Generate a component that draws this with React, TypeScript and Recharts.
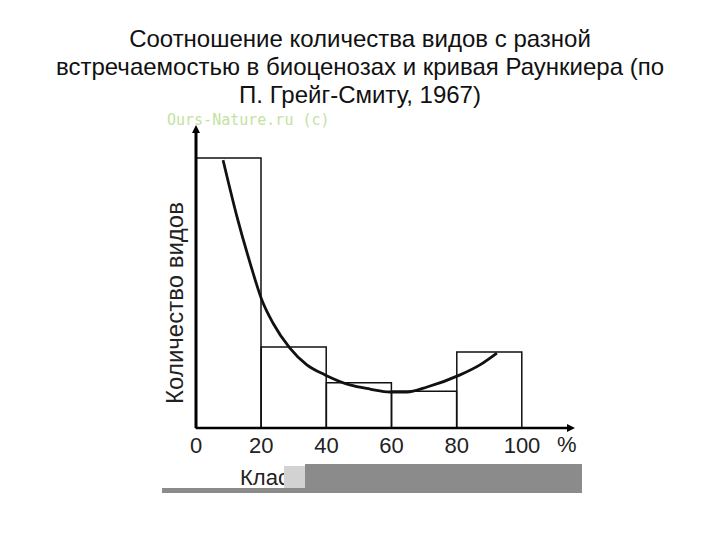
import { ComposedChart, Bar, Line, XAxis, YAxis } from "recharts";

// classes of occurrence (%), species count per class
const classLabels = ["0–20", "20–40", "40–60", "60–80", "80–100"];
const speciesCounts = [91.5, 27.5, 15.3, 12.5, 25.8];
const xTicks = [0, 20, 40, 60, 80, 100];

// Raunkiaer curve
const curveX = [8.3, 12.6, 16.6, 20.2, 23.6, 28.8, 34.0, 39.6, 47.2, 53.4, 59.5, 64.7, 70.9, 81.0, 87.1, 92.3];
const curveY = [90.8, 71.5, 55.9, 43.4, 35.6, 27.1, 21.4, 18.0, 14.6, 13.2, 12.2, 12.2, 13.9, 18.0, 21.4, 25.4];

const bars = classLabels.map((cls, i) => ({ cls, count: speciesCounts[i] }));
const curve = curveX.map((x, i) => ({ x, y: curveY[i] }));

const FONT = "'Liberation Sans', Arial, sans-serif";
const PAD = { left: 0, right: 45 };

export default function App() {
  return (
    <div
      style={{
        position: "absolute",
        left: 0,
        top: 0,
        width: 720,
        height: 540,
        background: "#fff",
        fontFamily: FONT,
        overflow: "hidden",
      }}
    >
      <ComposedChart
        width={720}
        height={540}
        data={bars}
        margin={{ top: 133, right: 153, bottom: 72, left: 195 }}
        barCategoryGap={0}
        barGap={0}
      >
        <defs>
          <marker
            id="arrow"
            viewBox="0 0 10 10"
            refX="0"
            refY="5"
            markerWidth="14"
            markerHeight="8"
            markerUnits="userSpaceOnUse"
            orient="auto-start-reverse"
          >
            <path d="M0,0 L10,5 L0,10 z" fill="#000" />
          </marker>
        </defs>
        <XAxis xAxisId="bin" dataKey="cls" type="category" hide height={0} padding={PAD} />
        <XAxis
          xAxisId="num"
          dataKey="x"
          type="number"
          domain={[0, 100]}
          ticks={xTicks}
          interval={0}
          padding={PAD}
          height={40}
          tickLine={false}
          tickMargin={3}
          axisLine={{ stroke: "#000", strokeWidth: 2.5, markerEnd: "url(#arrow)" }}
          tick={{ fontSize: 22, fill: "#222", fontFamily: FONT }}
        />
        <YAxis
          type="number"
          domain={[0, 100]}
          width={1}
          tick={false}
          tickLine={false}
          axisLine={{ stroke: "#000", strokeWidth: 3, markerStart: "url(#arrow)" }}
        />
        <Bar
          xAxisId="bin"
          dataKey="count"
          fill="none"
          stroke="#111"
          strokeWidth={1.5}
          isAnimationActive={false}
        />
        <Line
          xAxisId="num"
          data={curve}
          dataKey="y"
          type="monotone"
          stroke="#111"
          strokeWidth={2.8}
          dot={false}
          isAnimationActive={false}
        />
      </ComposedChart>

      <div
        style={{
          position: "absolute",
          left: 0,
          top: 25,
          width: 720,
          textAlign: "center",
          fontSize: 24,
          lineHeight: "28px",
          color: "#111",
        }}
      >
        Соотношение количества видов с разной
        <br />
        встречаемостью в биоценозах и кривая Раункиера (по
        <br />
        П. Грейг-Смиту, 1967)
      </div>

      <div
        style={{
          position: "absolute",
          left: 167,
          top: 111,
          fontFamily: "'DejaVu Sans Mono', monospace",
          fontSize: 15,
          color: "#c4e2a2",
          whiteSpace: "nowrap",
        }}
      >
        Ours-Nature.ru (c)
      </div>

      <div
        style={{
          position: "absolute",
          left: 175,
          top: 303,
          transform: "translate(-50%, -50%) rotate(-90deg)",
          fontSize: 24,
          color: "#222",
          whiteSpace: "nowrap",
        }}
      >
        Количество видов
      </div>

      <div
        style={{
          position: "absolute",
          left: 557,
          top: 432,
          fontSize: 22,
          color: "#222",
        }}
      >
        %
      </div>

      <div
        style={{
          position: "absolute",
          left: 240,
          top: 465,
          fontSize: 22,
          color: "#222",
          whiteSpace: "nowrap",
        }}
      >
        Класс
      </div>
      <div style={{ position: "absolute", left: 284, top: 466, width: 21, height: 22, background: "#d2d2d2" }} />
      <div style={{ position: "absolute", left: 305, top: 464, width: 277, height: 29, background: "#8b8b8b" }} />
      <div style={{ position: "absolute", left: 162, top: 488, width: 143, height: 5, background: "#8b8b8b" }} />
    </div>
  );
}
